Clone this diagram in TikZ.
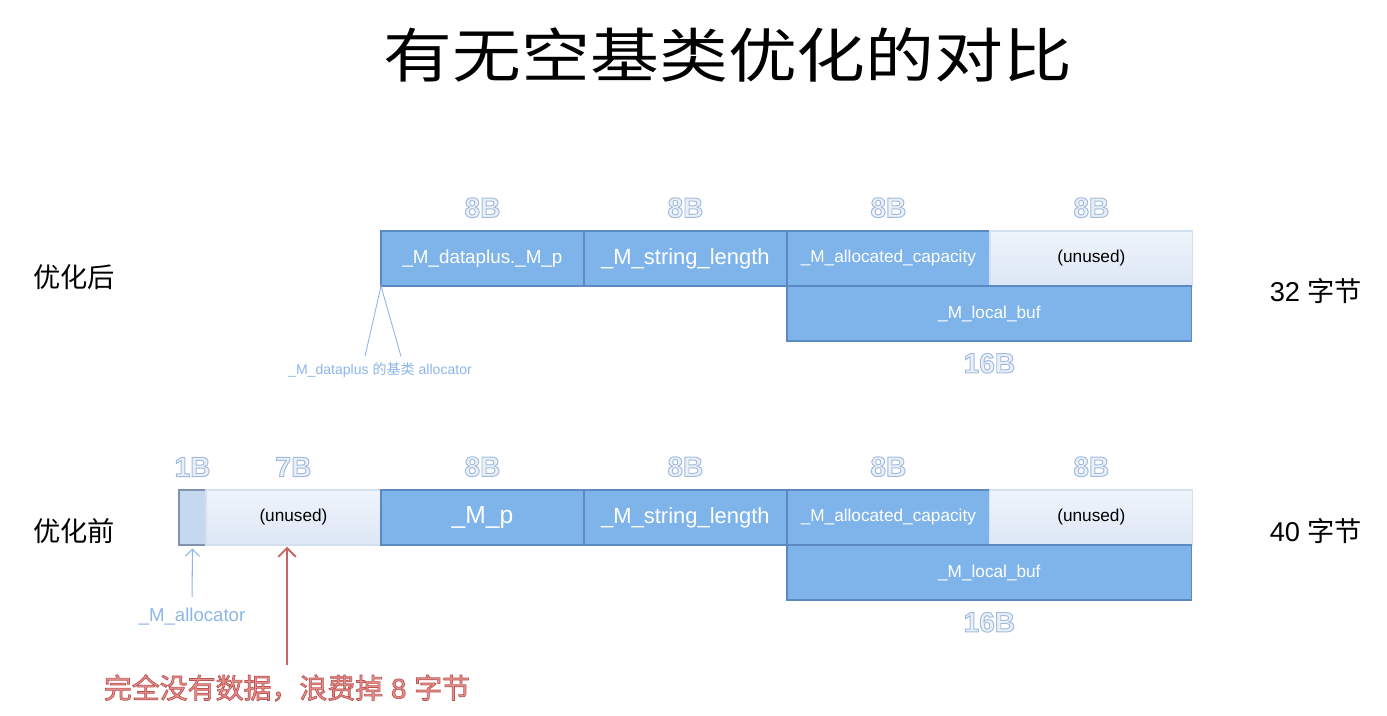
\documentclass[tikz,border=0pt]{standalone}
\usepackage{fontspec}
\setmainfont{Liberation Sans}
\newfontfamily\cjk{Noto Sans CJK SC}
\newfontfamily\cjkwide{Noto Sans CJK SC}[FakeStretch=1.17]
\usetikzlibrary{arrows.meta, positioning}
\definecolor{fieldblue}{HTML}{7EB4EA}
\definecolor{fieldedge}{HTML}{5B8AC2}
\definecolor{unusedtop}{HTML}{EEF4FB}
\definecolor{unusedbot}{HTML}{DCE7F5}
\definecolor{unusededge}{HTML}{D3E0EF}
\definecolor{allocfill}{HTML}{C4D8F0}
\definecolor{allocedge}{HTML}{8093AA}
\definecolor{sizefill}{HTML}{E9F0F9}
\definecolor{noteblue}{HTML}{8DB6E6}
\definecolor{wastefill}{HTML}{E59591}
\definecolor{wastered}{HTML}{C86464}
% outlined text: #1 fill colour, #2 stroke as r g b, #3 text
\newcommand{\outlined}[4][0.55]{{\color{#2}\special{pdf:literal direct q 2 Tr #1 w #3 RG}#4\special{pdf:literal direct Q}}}
\newcommand{\sizetag}[1]{\outlined{sizefill}{0.64 0.73 0.86}{#1}}

\begin{document}
\begin{tikzpicture}[
      x=0.02cm, y=-0.02cm,
      field/.style={rectangle, draw=fieldedge, fill=fieldblue, line width=0.7pt,
                    minimum width=4.06cm, minimum height=1.1cm,
                    inner sep=0pt, outer sep=0pt,
                    text=white, font=\fontsize{9.8}{12}\selectfont},
      unused/.style={field, draw=unusededge, top color=unusedtop, bottom color=unusedbot, text=black},
      size/.style={inner sep=0pt, font=\fontsize{16}{18}\selectfont\bfseries},
      side/.style={font=\fontsize{15.5}{18}\selectfont},
      note/.style={text=noteblue}
    ]
    \useasboundingbox (0,0) rectangle (1387,716);
    \node[font=\cjkwide\fontsize{33.5}{36}\selectfont] (title) at (728,55) {有无空基类优化的对比};

    % after optimisation
    \node[side] (after) at (74,277) {\cjk 优化后};
    \node[field, anchor=north west, font=\fontsize{10.7}{12}\selectfont] (a0) at (381,231) {\_M\_dataplus.\_M\_p};
    \node[field, right=0pt of a0, font=\fontsize{12.5}{14}\selectfont] (a1) {\_M\_string\_length};
    \node[field, right=0pt of a1] (a2) {\_M\_allocated\_capacity};
    \node[unused, right=0pt of a2] (a3) {(unused)};
    \node[field, anchor=north west, minimum width=8.1cm] (abuf) at (a2.south west) {\_M\_local\_buf};
    \foreach \n in {a0,a1,a2,a3}
      \node[size, above=0.26cm of \n] (\n-size) {\sizetag{8B}};
    \node[size, below=0.24cm of abuf] (abuf-size) {\sizetag{16B}};
    \node[side] (after-total) at (1316,291) {32 {\cjk 字节}};
    \node[note, font=\fontsize{8}{10}\selectfont] (dp-note) at (380,370) {\_M\_dataplus {\cjk 的基类} allocator};
    \draw[noteblue, line width=0.5pt] ([xshift=-0.3cm]dp-note.north) -- (a0.south west) -- ([xshift=0.42cm]dp-note.north);

    % before optimisation
    \node[side] (before) at (74,531) {\cjk 优化前};
    \node[field, anchor=north west, minimum width=0.54cm, draw=allocedge, fill=allocfill] (b0) at (179,490) {};
    \node[unused, right=0pt of b0, minimum width=3.5cm] (b1) {(unused)};
    \node[field, right=0pt of b1, font=\fontsize{14}{16}\selectfont] (b2) {\_M\_p};
    \node[field, right=0pt of b2, font=\fontsize{12.5}{14}\selectfont] (b3) {\_M\_string\_length};
    \node[field, right=0pt of b3] (b4) {\_M\_allocated\_capacity};
    \node[unused, right=0pt of b4] (b5) {(unused)};
    \node[field, anchor=north west, minimum width=8.1cm] (bbuf) at (b4.south west) {\_M\_local\_buf};
    \node[size, above=0.26cm of b0] (b0-size) {\sizetag{1B}};
    \node[size, above=0.26cm of b1] (b1-size) {\sizetag{7B}};
    \foreach \n in {b2,b3,b4,b5}
      \node[size, above=0.26cm of \n] (\n-size) {\sizetag{8B}};
    \node[size, below=0.24cm of bbuf] (bbuf-size) {\sizetag{16B}};
    \node[side] (before-total) at (1316,531) {40 {\cjk 字节}};
    \node[note, font=\fontsize{10.6}{12}\selectfont] (alloc-note) at (192,617) {\_M\_allocator};
    \draw[noteblue, line width=0.6pt, -{Straight Barb[length=4pt]}, shorten <=3pt, shorten >=2pt] (alloc-note.north) -- (b0.south);
    \node[font=\fontsize{15.9}{18}\selectfont] (waste-note) at (287,688)
      {\outlined[0.4]{wastefill}{0.74 0.32 0.32}{{\cjk 完全没有数据，浪费掉} 8 {\cjk 字节}}};
    \draw[wastered, line width=1.1pt, -{Straight Barb[length=5pt]}, shorten <=2pt, shorten >=1pt] (waste-note.north) -- (waste-note.north |- b1.south);
  \end{tikzpicture}
\end{document}
